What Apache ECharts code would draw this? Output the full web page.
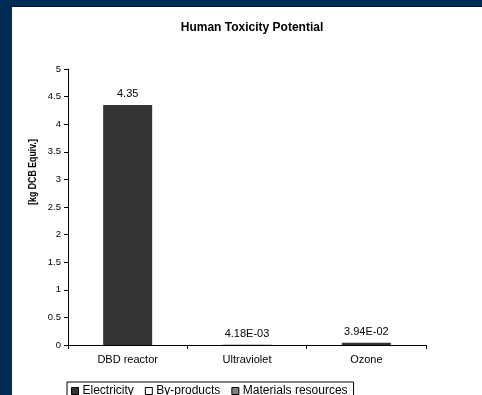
<!DOCTYPE html>
<html>
<head>
<meta charset="utf-8">
<script src="https://cdn.jsdelivr.net/npm/echarts@6/dist/echarts.min.js"></script>
<style>
  html, body { margin: 0; padding: 0; width: 482px; height: 395px; background: #002b55; overflow: hidden; }
  #panel { position: absolute; left: 12px; top: 7px; width: 470px; height: 388px; background: #ffffff;
           box-shadow: 0 -1px 0 #0a1522; }
  #chart { width: 470px; height: 388px; }
</style>
</head>
<body>
<div id="panel"><div id="chart"></div></div>
<script>
// Human toxicity potential per treatment, kg DCB equivalent
const categories = ['DBD reactor', 'Ultraviolet', 'Ozone'];
const electricity = [4.35, 0.00418, 0.0394];
const byProducts = [0, 0, 0];
const materialsResources = [0, 0, 0];
const yTicks = [0, 0.5, 1, 1.5, 2, 2.5, 3, 3.5, 4, 4.5, 5];

// Totals shown above each stack, in spreadsheet "General" style
function fmt(v) {
  if (v >= 0.1) return String(v);
  const [m, e] = v.toExponential(2).split('e');
  const n = parseInt(e, 10);
  const sign = n < 0 ? '-' : '+';
  const a = Math.abs(n);
  return m + 'E' + sign + (a < 10 ? '0' + a : a);
}
const totals = categories.map((c, i) => electricity[i] + byProducts[i] + materialsResources[i]);
// empty segments are left out so they draw no outline
const seg = arr => arr.map(v => (v === 0 ? null : v));

const chart = echarts.init(document.getElementById('chart'), null, { renderer: 'canvas' });
const font = 'Arial, "Liberation Sans", sans-serif';

chart.setOption({
  animation: false,
  backgroundColor: '#ffffff',
  title: {
    text: 'Human Toxicity Potential',
    left: 235, top: 10, textAlign: 'center',
    textStyle: { fontFamily: font, fontSize: 12, fontWeight: 'bold', color: '#000' }
  },
  grid: { left: 56, right: 56, top: 62, bottom: 50 },
  legend: {
    left: 55, top: 375,
    itemWidth: 7, itemHeight: 7, itemGap: 11,
    padding: [3, 6, 3, 4],
    borderColor: '#000', borderWidth: 1,
    textStyle: { fontFamily: font, fontSize: 12, color: '#000', padding: [0, 0, 0, -1] },
    data: [
      { name: 'Electricity', icon: 'rect', itemStyle: { color: '#333333', borderColor: '#000', borderWidth: 1 } },
      { name: 'By-products', icon: 'rect', itemStyle: { color: '#ffffff', borderColor: '#000', borderWidth: 1 } },
      { name: 'Materials resources', icon: 'rect', itemStyle: { color: '#808080', borderColor: '#000', borderWidth: 1 } }
    ]
  },
  xAxis: {
    type: 'category',
    data: categories,
    axisLine: { lineStyle: { color: '#000', width: 1 } },
    axisTick: { show: true, length: 4, inside: false, lineStyle: { color: '#000' } },
    axisLabel: { fontFamily: font, fontSize: 11, color: '#000', margin: 9 }
  },
  yAxis: {
    type: 'value',
    min: yTicks[0], max: yTicks[yTicks.length - 1], interval: 0.5,
    axisLine: { show: true, lineStyle: { color: '#000', width: 1 } },
    axisTick: { show: true, length: 4, lineStyle: { color: '#000' } },
    splitLine: { show: false },
    axisLabel: { fontFamily: font, fontSize: 9.5, color: '#000', margin: 7 }
  },
  graphic: [{
    type: 'text',
    x: 21, y: 165,
    rotation: Math.PI / 2,
    scaleX: 0.8,
    style: {
      text: '[kg DCB Equiv.]',
      font: 'bold 11px ' + font,
      fill: '#000',
      textAlign: 'center',
      textVerticalAlign: 'middle'
    }
  }],
  series: [
    {
      name: 'Electricity', type: 'bar', stack: 'total', barWidth: 49,
      data: electricity,
      itemStyle: { color: '#333333' },
      label: {
        show: true, position: 'top', distance: 5,
        fontFamily: font, fontSize: 11, color: '#000',
        formatter: p => fmt(totals[p.dataIndex])
      }
    },
    {
      name: 'By-products', type: 'bar', stack: 'total', barWidth: 49,
      data: seg(byProducts),
      itemStyle: { color: '#ffffff', borderColor: '#000', borderWidth: 1 }
    },
    {
      name: 'Materials resources', type: 'bar', stack: 'total', barWidth: 49,
      data: seg(materialsResources),
      itemStyle: { color: '#808080', borderColor: '#000', borderWidth: 1 }
    }
  ]
});
</script>
</body>
</html>
